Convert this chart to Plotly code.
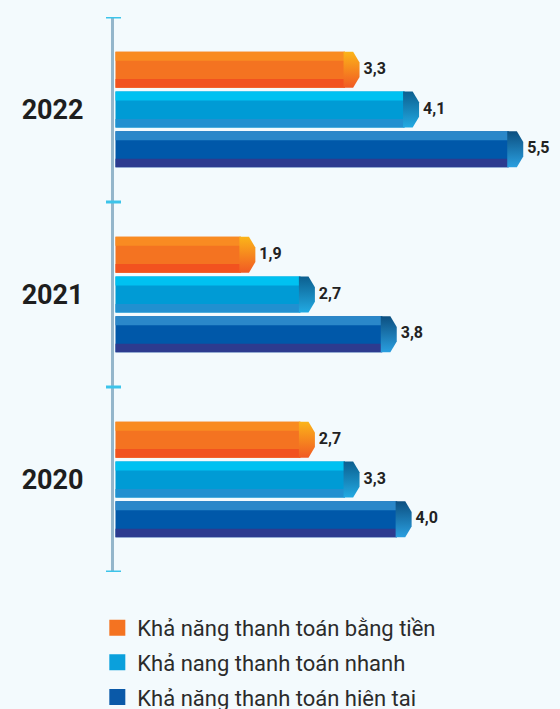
import plotly.graph_objects as go

years = ['2020', '2021', '2022']
series = ['Khả năng thanh toán bằng tiền', 'Khả nang thanh toán nhanh', 'Khả năng thanh toán hiên tai']
cash = [2.7, 1.9, 3.3]
quick = [3.3, 2.7, 4.1]
current = [4.0, 3.8, 5.5]

values = [cash, quick, current]
# top stripe, body, bottom stripe, cap top, cap bottom, legend
colors = [
    dict(top='#f98b22', mid='#f47321', bot='#f2521f', ctop='#fbb519', cbot='#f15a24', leg='#f47321'),
    dict(top='#00c1f1', mid='#009bd5', bot='#2190d0', ctop='#0c5f8f', cbot='#22aae3', leg='#0aa0dc'),
    dict(top='#2a87c9', mid='#0058a9', bot='#2d3b8f', ctop='#0c4f80', cbot='#2a9fe0', leg='#0a59a8'),
]
offsets = [0.215, 0.0, -0.215]
H = 0.195      # bar thickness (y units)
CW = 0.215     # cap length (x units)

fig = go.Figure()

for s in range(3):
    c = colors[s]
    ys = [i + offsets[s] for i in range(len(years))]
    body = [v - CW for v in values[s]]
    fig.add_trace(go.Bar(x=body, y=ys, orientation='h', width=H, base=0.02,
                         marker=dict(color=c['mid'], line=dict(width=0)),
                         showlegend=False, hoverinfo='skip'))
    fig.add_trace(go.Bar(x=body, y=[y + H * 0.375 for y in ys], orientation='h', width=H * 0.25, base=0.02,
                         marker=dict(color=c['top'], line=dict(width=0)),
                         showlegend=False, hoverinfo='skip'))
    fig.add_trace(go.Bar(x=body, y=[y - H * 0.38 for y in ys], orientation='h', width=H * 0.24, base=0.02,
                         marker=dict(color=c['bot'], line=dict(width=0)),
                         showlegend=False, hoverinfo='skip'))
    # hexagonal caps
    for v, y in zip(values[s], ys):
        h = H / 2
        px = [v - CW, v - CW * 0.4, v, v, v - CW * 0.4, v - CW, v - CW]
        py = [y + h, y + h, y + h * 0.4, y - h * 0.4, y - h, y - h, y + h]
        fig.add_trace(go.Scatter(x=px, y=py, mode='lines', fill='toself',
                                 line=dict(width=0, color=c['mid']),
                                 fillgradient=dict(type='vertical',
                                                   colorscale=[[0, c['cbot']], [1, c['ctop']]]),
                                 showlegend=False, hoverinfo='skip'))
    # value labels
    fig.add_trace(go.Scatter(x=values[s], y=ys, mode='text',
                             text=['\u00a0' + ('%.1f' % v).replace('.', ',') for v in values[s]],
                             textposition='middle right',
                             textfont=dict(family='Roboto', size=16, color='#222222', weight='bold'),
                             showlegend=False, hoverinfo='skip', cliponaxis=False))
    # legend entry
    fig.add_trace(go.Scatter(x=[None], y=[None], mode='markers', name=series[s],
                             legendgroup=str(s),
                             marker=dict(symbol='square', size=17, color=c['leg'])))

# axis boundary ticks
for b in [-0.5, 0.5, 1.5, 2.5]:
    fig.add_shape(type='line', xref='paper', yref='y', xsizemode='pixel', xanchor=0,
                  x0=-8, x1=7, y0=b, y1=b, line=dict(color='#3cc4ea', width=3))

fig.update_layout(
    width=560, height=709,
    margin=dict(l=114, r=7, t=17, b=137, autoexpand=False),
    paper_bgcolor='#f3fafd', plot_bgcolor='rgba(0,0,0,0)',
    barmode='overlay',
    xaxis=dict(range=[0, 5.9], visible=False),
    yaxis=dict(range=[-0.5, 2.5], tickvals=[0, 1, 2], ticktext=years,
               showgrid=False, zeroline=False, showline=True,
               linecolor='#94b6cb', linewidth=3, ticks='', ticklabelstandoff=22,
               tickfont=dict(family='Roboto', size=27, color='#1e1e1e', weight='bold')),
    legend=dict(x=-0.038, xanchor='left', y=-0.063, yanchor='top',
                font=dict(family='Roboto', size=22, color='#2b2b2b'),
                tracegroupgap=3, bgcolor='rgba(0,0,0,0)'),
    showlegend=True,
)

fig.write_html("out.html", config={'displayModeBar': False},
               post_script="document.body.style.margin='0';document.body.style.background='#f3fafd';")
